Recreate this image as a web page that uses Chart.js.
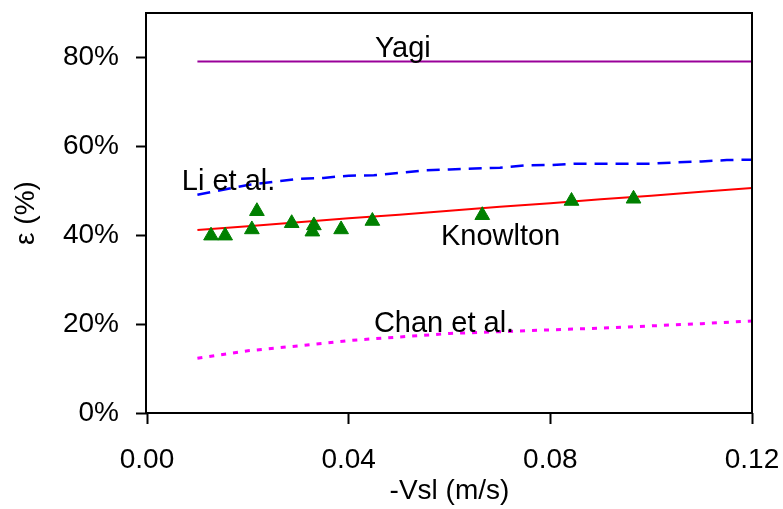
<!DOCTYPE html>
<html>
<head>
<meta charset="utf-8">
<script src="https://cdn.jsdelivr.net/npm/chart.js@4.4.1/dist/chart.umd.min.js"></script>
<style>
    html, body { margin: 0; padding: 0; background: #fff; }
    canvas { display: block; }
</style>
</head>
<body>
<canvas id="canvas" width="783" height="509"></canvas>
<script>
const ctx = document.getElementById('canvas').getContext('2d');

// tick labels
const xTicks = [0, 0.04, 0.08, 0.12];
const yTicks = [0, 20, 40, 60, 80];

// Yagi
const yagiX = [0.01, 0.12];
const yagiY = [79.1, 79.1];

// Li et al.
const liX = [0.01, 0.02, 0.03, 0.035, 0.04, 0.045, 0.05, 0.055, 0.06, 0.065, 0.07, 0.075, 0.08, 0.085, 0.09, 0.10, 0.105, 0.11, 0.115, 0.12];
const liY = [49.1, 51.3, 52.7, 52.9, 53.4, 53.5, 54.0, 54.6, 54.8, 55.0, 55.2, 55.7, 55.8, 56.1, 56.1, 56.1, 56.4, 56.6, 56.9, 57.0];

// Knowlton
const knowX = [0.01, 0.02, 0.03, 0.04, 0.05, 0.06, 0.07, 0.08, 0.09, 0.10, 0.11, 0.12];
const knowY = [41.2, 42.0, 42.9, 43.8, 44.6, 45.5, 46.4, 47.2, 48.1, 48.9, 49.8, 50.6];

// Chan et al.
const chanX = [0.01, 0.02, 0.03, 0.04, 0.05, 0.06, 0.07, 0.08, 0.09, 0.10, 0.11, 0.12];
const chanY = [12.3, 14.0, 15.1, 16.3, 17.1, 17.9, 18.3, 18.7, 19.1, 19.6, 20.1, 20.7];

// measured points
const measX = [0.0127, 0.0155, 0.0208, 0.0218, 0.0287, 0.0331, 0.0328, 0.0385, 0.0447, 0.0665, 0.0842, 0.0965];
const measY = [39.9, 39.9, 41.3, 45.4, 42.7, 42.2, 40.8, 41.3, 43.2, 44.5, 47.7, 48.2];

// curve names, anchored at data coords (left edge, baseline)
const curveLabels = [
    { text: 'Yagi', x: 0.0452, y: 80.2 },
    { text: 'Li et al.', x: 0.0069, y: 50.2 },
    { text: 'Knowlton', x: 0.0583, y: 37.9 },
    { text: 'Chan et al.', x: 0.0450, y: 18.2 }
];

const FONT = 'Arial, "Liberation Sans", sans-serif';

function pts(xs, ys) {
    return xs.map((x, i) => ({ x: x, y: ys[i] }));
}

function lineSet(label, xs, ys, color, width, dash) {
    return {
        label: label,
        data: pts(xs, ys),
        showLine: true,
        borderColor: color,
        borderWidth: width,
        borderDash: dash,
        pointRadius: 0,
        tension: 0,
        fill: false
    };
}

const data = {
    datasets: [
        {
            label: 'data',
            data: pts(measX, measY),
            pointStyle: 'triangle',
            pointRadius: 8.5,
            backgroundColor: '#008000',
            borderColor: '#008000',
            borderWidth: 1,
            showLine: false
        },
        lineSet('Knowlton', knowX, knowY, '#ff0000', 2, []),
        lineSet('Li et al.', liX, liY, '#0000ff', 2.5, [13, 8]),
        lineSet('Chan et al.', chanX, chanY, '#ff00ff', 3, [5, 7]),
        lineSet('Yagi', yagiX, yagiY, '#990099', 2, [])
    ]
};

const tickGrid = {
    display: true,
    drawOnChartArea: false,
    drawTicks: true,
    tickLength: 11,
    tickWidth: 2,
    tickColor: '#000'
};

const config = {
    type: 'scatter',
    data: data,
    options: {
        responsive: false,
        animation: false,
        layout: { padding: { top: 13, right: 31, left: 0, bottom: 0 } },
        plugins: {
            legend: { display: false },
            tooltip: { enabled: false }
        },
        scales: {
            x: {
                type: 'linear',
                min: 0,
                max: 0.12,
                grid: tickGrid,
                border: { display: false },
                afterBuildTicks: (scale) => {
                    scale.ticks = xTicks.map(v => ({ value: v }));
                },
                afterFit: (scale) => {
                    scale.height = 96;
                    scale.paddingLeft = 0;
                    scale.paddingRight = 0;
                },
                ticks: {
                    color: '#000',
                    font: { family: FONT, size: 28 },
                    padding: 19,
                    maxRotation: 0,
                    callback: v => v.toFixed(2)
                },
                title: {
                    display: true,
                    text: '-Vsl (m/s)',
                    color: '#000',
                    font: { family: FONT, size: 28 },
                    padding: { top: 0, bottom: 1 }
                }
            },
            y: {
                type: 'linear',
                min: 0,
                max: 90,
                grid: tickGrid,
                border: { display: false },
                afterBuildTicks: (scale) => {
                    scale.ticks = yTicks.map(v => ({ value: v }));
                },
                afterFit: (scale) => {
                    scale.width = 147;
                    scale.paddingTop = 0;
                    scale.paddingBottom = 0;
                },
                ticks: {
                    color: '#000',
                    font: { family: FONT, size: 28 },
                    padding: 17,
                    callback: v => v + '%'
                },
                title: {
                    display: true,
                    text: 'ε (%)',
                    color: '#000',
                    font: { family: FONT, size: 28 },
                    padding: { top: 9, bottom: 0 }
                }
            }
        }
    },
    plugins: [
        {
            id: 'frame',
            afterDatasetsDraw: (chart) => {
                const c = chart.ctx;
                const a = chart.chartArea;
                c.save();
                c.strokeStyle = '#000';
                c.lineWidth = 2;
                c.strokeRect(a.left - 1, a.top, a.right - a.left + 1, a.bottom - a.top);
                c.restore();
            }
        },
        {
            id: 'curveLabels',
            afterDraw: (chart) => {
                const c = chart.ctx;
                const xs = chart.scales.x;
                const ys = chart.scales.y;
                c.save();
                c.fillStyle = '#000';
                c.font = '29px ' + FONT;
                c.textAlign = 'left';
                c.textBaseline = 'alphabetic';
                curveLabels.forEach(l => {
                    c.fillText(l.text, xs.getPixelForValue(l.x), ys.getPixelForValue(l.y));
                });
                c.restore();
            }
        }
    ]
};

const chart = new Chart(ctx, config);
</script>
</body>
</html>
